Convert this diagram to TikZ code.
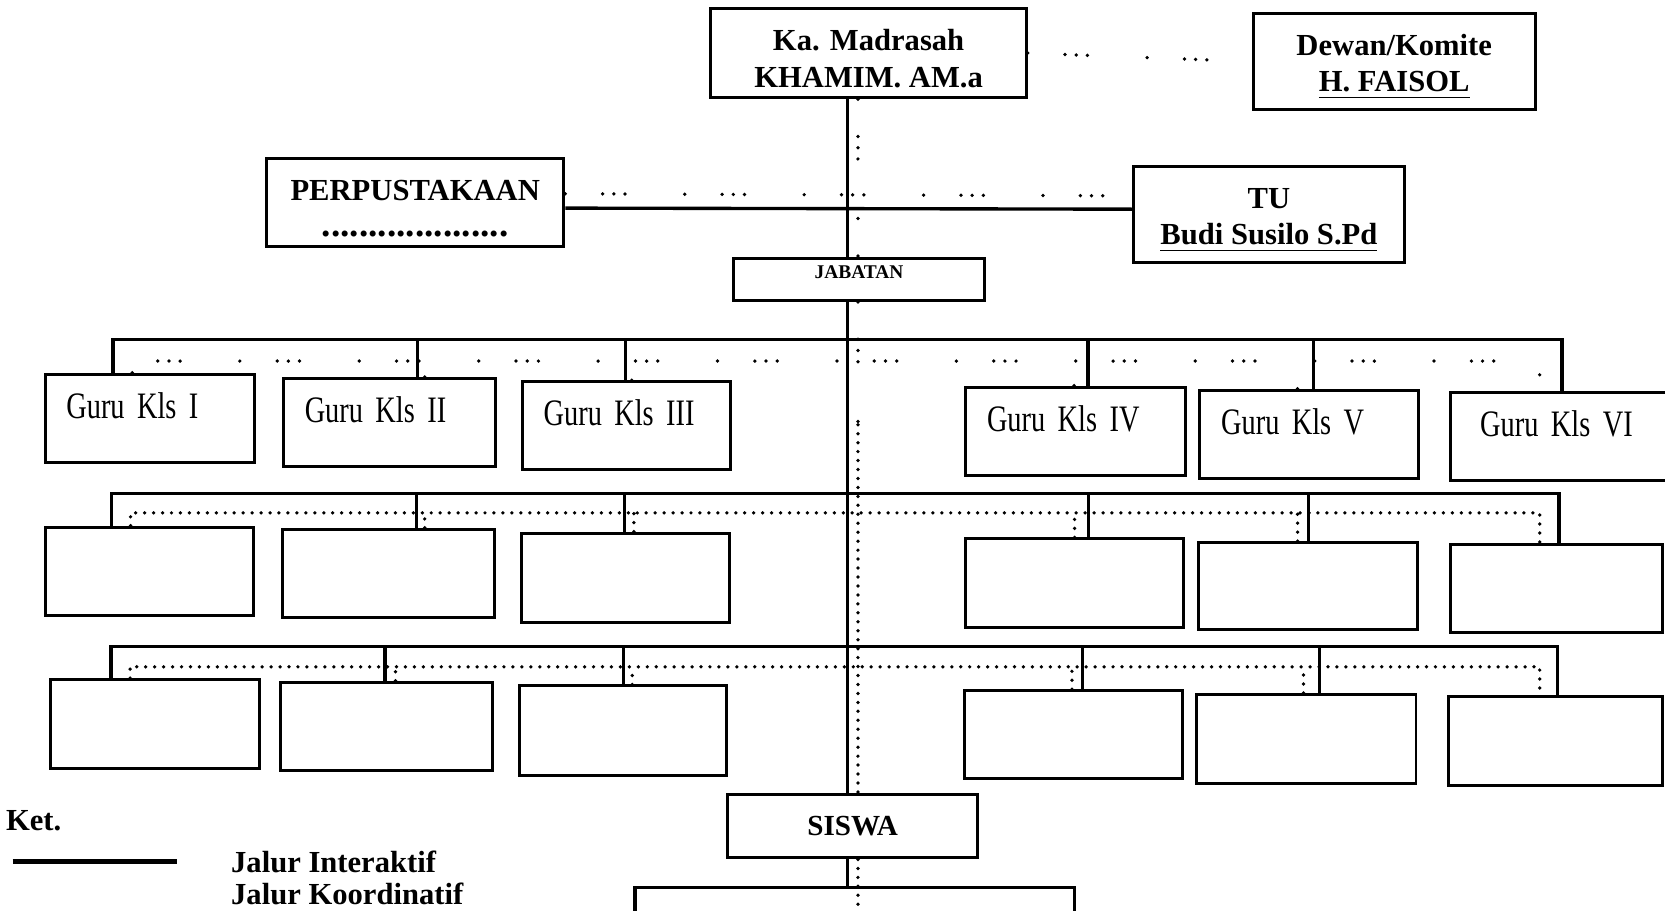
\documentclass[tikz,border=0pt]{standalone}
\usepackage{fontspec}
\setmainfont{Liberation Serif}
\newfontfamily\gurufont[FakeStretch=0.76]{Liberation Serif}
\newcommand{\turun}{\rule{0pt}{3mm}}
\usetikzlibrary{positioning,calc}

\begin{document}
\begin{tikzpicture}[x=0.1mm, y=-0.1mm,
  kotak/.style={draw, line width=0.8pt, fill=white, inner sep=0pt},
  judul/.style={kotak, align=center, font=\fontsize{8.2}{9.8}\selectfont\bfseries},
  guru/.style={kotak, minimum height=8.3mm, inner xsep=2mm, align=left,
               text height=2.5mm, text depth=2.5mm, font=\gurufont\fontsize{10}{12}\selectfont},
  jalur/.style={line width=0.9pt},
  koord/.style={line width=1pt, line cap=round, dash pattern=on 0pt off 2.4pt},
  jarang/.style={line width=1pt, line cap=round,
                 dash pattern=on 0pt off 10pt on 0pt off 3pt on 0pt off 3pt on 0pt off 16pt},
  ket/.style={font=\fontsize{8.2}{10}\selectfont\bfseries, inner sep=0pt}]
\useasboundingbox[fill=white] (0,0) rectangle (1568,857);
% pimpinan
\node[judul, minimum width=29.7mm, minimum height=8.4mm] (ka) at (818,50) {\turun Ka. Madrasah\\KHAMIM. AM.a};
\node[judul, minimum width=26.6mm, minimum height=9mm] (dewan) at (1313,58) {\turun Dewan/Komite\\\underline{H. FAISOL}};
\node[judul, minimum width=28mm, minimum height=8.3mm] (perp) at (391,191)
  {\turun PERPUSTAKAAN\\{\fontsize{10}{10}\selectfont ....................}};
\node[judul, minimum width=25.5mm, minimum height=9.1mm] (tu) at (1195,202) {\turun TU\\\underline{Budi Susilo S.Pd}};
\node[judul, minimum width=23.6mm, minimum height=4mm, text height=1.6mm, text depth=1.8mm,
  font=\fontsize{5.2}{6}\selectfont\bfseries] (jab) at (809,263) {JABATAN};
\node[judul, minimum width=23.6mm, minimum height=6mm, font=\fontsize{7.8}{9}\selectfont\bfseries] (siswa) at (803,778) {SISWA};
% guru kelas
\node[guru, text width=15.7mm] (g1) at (141,394) {Guru Kls I};
\node[guru, text width=16mm] (g2) at (367,398) {Guru Kls II};
\node[guru, text width=15.6mm] (g3) at (590,401) {Guru Kls III};
\node[guru, text width=16.7mm] (g4) at (1013,406) {Guru Kls IV};
\node[guru, text width=16.6mm] (g5) at (1233,409) {Guru Kls V};
\node[guru, text width=15.8mm, inner xsep=2.8mm] (g6) at (1473,411) {Guru Kls VI};
% kotak kosong
\node[kotak, minimum width=19.6mm, minimum height=8.3mm] (b1) at (141,538) {};
\node[kotak, minimum width=20mm, minimum height=8.3mm] (b2) at (366,540) {};
\node[kotak, minimum width=19.6mm, minimum height=8.4mm] (b3) at (589,544) {};
\node[kotak, minimum width=20.6mm, minimum height=8.3mm] (b4) at (1012,549) {};
\node[kotak, minimum width=20.6mm, minimum height=8.2mm] (b5) at (1232,552) {};
\node[kotak, minimum width=20mm, minimum height=8.3mm] (b6) at (1466,554) {};
\node[kotak, minimum width=19.7mm, minimum height=8.4mm] (c1) at (146,682) {};
\node[kotak, minimum width=19.9mm, minimum height=8.3mm] (c2) at (364,684) {};
\node[kotak, minimum width=19.5mm, minimum height=8.4mm] (c3) at (587,688) {};
\node[kotak, minimum width=20.5mm, minimum height=8.3mm] (c4) at (1011,692) {};
\node[kotak, minimum width=20.7mm, minimum height=8.4mm] (c5) at (1230,696) {};
\node[kotak, minimum width=20.2mm, minimum height=8.4mm] (c6) at (1465,698) {};
% titik bantu
\coordinate (sp) at (798,0);
\coordinate (dp) at (808,0);
\coordinate (s1) at (798,320);
\coordinate (d1) at (808,340);
\coordinate (s2) at (798,465);
\coordinate (d2) at (808,483);
\coordinate (s3) at (798,609);
\coordinate (d3) at (808,628);
\coordinate (dq) at (808,400);
\coordinate (sbus) at (798,836);
\coordinate (sl) at (598,880);
\coordinate (sr) at (1012,880);
\coordinate (dend) at (808,880);
% garis tengah
\draw[jalur] (ka.south -| sp) -- (jab.north -| sp) (jab.south -| sp) -- (siswa.north -| sp)
  (siswa.south -| sp) -- (sbus);
\draw[jalur] (sl) |- (sbus) -| (sr);
\draw[jarang] (ka.south -| dp) -- (jab.north -| dp) (jab.south -| dp) -- (dq);
\draw[koord] (dq) -- (siswa.north -| dp) (siswa.south -| dp) -- (dend);
% garis atas
\draw[jarang] (ka.east) -- (dewan.west);
\draw[jalur] ([yshift=-0.5mm]perp.east) -- ([yshift=0.5mm]tu.west);
\draw[jarang] ([yshift=0.85mm]perp.east) -- ([yshift=1.75mm]tu.west);
% baris 1
\draw[jalur] ([xshift=-3.45mm]g1.north) |- (s1) -| ([xshift=-0.2mm]g6.north)
  ([xshift=2.6mm]g2.north) -- ([xshift=2.6mm]g2.north |- s1)
  ([xshift=-0.1mm]g3.north) -- ([xshift=-0.1mm]g3.north |- s1)
  ([xshift=1.15mm]g4.north) -- ([xshift=1.15mm]g4.north |- s1)
  ([xshift=0.4mm]g5.north) -- ([xshift=0.4mm]g5.north |- s1);
\draw[jarang] ([xshift=-1.65mm]g1.north) |- (d1) -| ([xshift=-2.3mm]g6.north)
  ([xshift=3.3mm]g2.north) -- ([xshift=3.3mm]g2.north |- d1)
  ([xshift=0.5mm]g3.north) -- ([xshift=0.5mm]g3.north |- d1)
  ([xshift=-0.15mm]g4.north) -- ([xshift=-0.15mm]g4.north |- d1)
  ([xshift=-1.1mm]g5.north) -- ([xshift=-1.1mm]g5.north |- d1);
% baris 2
\draw[jalur] ([xshift=-3.6mm]b1.north) |- (s2) -| ([xshift=0.2mm]b6.north)
  ([xshift=2.6mm]b2.north) -- ([xshift=2.6mm]b2.north |- s2)
  ([xshift=-0.1mm]b3.north) -- ([xshift=-0.1mm]b3.north |- s2)
  ([xshift=1.3mm]b4.north) -- ([xshift=1.3mm]b4.north |- s2)
  (b5.north) -- (b5.north |- s2);
\draw[koord] ([xshift=-1.8mm]b1.north) |- (d2) -| ([xshift=-1.6mm]b6.north)
  ([xshift=3.4mm]b2.north) -- ([xshift=3.4mm]b2.north |- d2)
  ([xshift=0.8mm]b3.north) -- ([xshift=0.8mm]b3.north |- d2)
  (b4.north) -- (b4.north |- d2)
  ([xshift=-1mm]b5.north) -- ([xshift=-1mm]b5.north |- d2);
% baris 3
\draw[jalur] ([xshift=-4.15mm]c1.north) |- (s3) -| ([xshift=0.2mm]c6.north)
  ([xshift=-0.15mm]c2.north) -- ([xshift=-0.15mm]c2.north |- s3)
  (c3.north) -- (c3.north |- s3)
  ([xshift=0.85mm]c4.north) -- ([xshift=0.85mm]c4.north |- s3)
  ([xshift=1.25mm]c5.north) -- ([xshift=1.25mm]c5.north |- s3);
\draw[koord] ([xshift=-2.35mm]c1.north) |- (d3) -| ([xshift=-1.5mm]c6.north)
  ([xshift=0.85mm]c2.north) -- ([xshift=0.85mm]c2.north |- d3)
  ([xshift=0.85mm]c3.north) -- ([xshift=0.85mm]c3.north |- d3)
  ([xshift=-0.15mm]c4.north) -- ([xshift=-0.15mm]c4.north |- d3)
  ([xshift=-0.25mm]c5.north) -- ([xshift=-0.25mm]c5.north |- d3);
% keterangan
\node[ket, anchor=west] (ketn) at (5,773) {Ket.};
\coordinate (lg1) at (12,811);
\coordinate (lg2) at (167,811);
\draw[line width=1.3pt] (lg1) -- (lg2);
\node[ket, anchor=west] (ji) at (217,812) {Jalur Interaktif};
\node[ket, anchor=base west] (jk) at (217,852) {Jalur Koordinatif};
\end{tikzpicture}
\end{document}
